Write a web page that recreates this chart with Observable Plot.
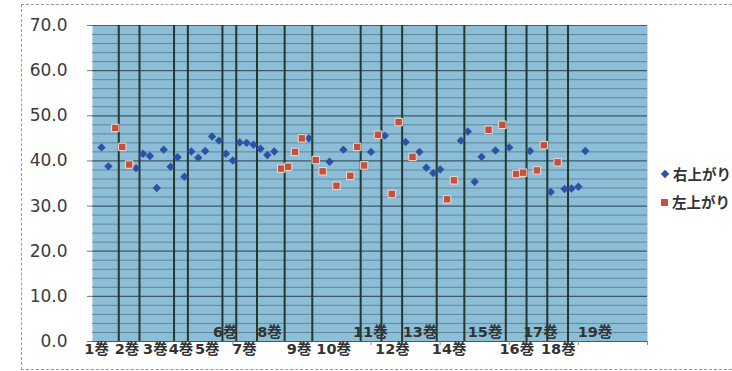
<!DOCTYPE html>
<html><head><meta charset="utf-8">
<script src="https://cdn.jsdelivr.net/npm/d3@7"></script>
<script src="https://cdn.jsdelivr.net/npm/@observablehq/plot@0.6"></script>
<style>
body{margin:0;background:#fff;}
#wrap{position:relative;width:732px;height:371px;overflow:hidden;font-family:"DejaVu Sans","Noto Sans CJK JP",sans-serif;}
#border{position:absolute;left:21px;top:4px;width:716px;height:366px;border:1.5px dashed #9a9a9a;box-sizing:border-box;}
#chart{position:absolute;left:0;top:0;}
.leg{position:absolute;left:661px;font-family:"Noto Sans CJK JP","DejaVu Sans",sans-serif;font-size:14.5px;font-weight:bold;color:#333;line-height:18px;display:flex;align-items:center;}
.leg .mk{display:inline-block;margin-right:4px;}
</style></head><body>
<div id="wrap"><div id="border"></div><div id="chart"></div>
<div class="leg" style="top:165px"><span class="mk" style="width:6px;height:6px;background:#2c52a6;transform:rotate(45deg);margin-left:1px;margin-right:5px"></span>右上がり</div>
<div class="leg" style="top:193px"><span class="mk" style="width:7px;height:7px;background:#c4503f"></span>左上がり</div>
</div>
<script>
const seriesNames = ["右上がり", "左上がり"];
// values per chapter (1..71); null where the chapter belongs to the other series
const rightUp = [43.0,38.8,null,null,null,38.4,41.6,41.1,34.0,42.5,38.7,40.8,36.5,42.1,40.7,42.2,45.4,44.5,41.6,40.1,
  44.1,44.0,43.6,42.7,41.3,42.1,null,null,null,null,45.0,null,null,39.8,null,42.5,null,null,null,42.0,
  null,45.6,null,null,44.2,null,42.0,38.5,37.3,38.1,null,null,44.5,46.5,35.4,40.9,null,42.3,null,43.0,
  null,null,42.2,null,null,33.1,null,33.8,33.9,34.3,42.2];
const leftUp = [null,null,47.3,43.1,39.2,null,null,null,null,null,null,null,null,null,null,null,null,null,null,null,
  null,null,null,null,null,null,38.3,38.7,42.0,45.0,null,40.2,37.7,null,34.5,null,36.7,43.1,39.0,null,
  45.8,null,32.7,48.6,null,40.9,null,null,null,null,31.5,35.7,null,null,null,null,46.9,null,48.0,null,
  37.1,37.4,null,37.9,43.5,null,39.7,null,null,null,null];
const volumeLabels = ["1巻","2巻","3巻","4巻","5巻","6巻","7巻","8巻","9巻","10巻","11巻","12巻","13巻","14巻","15巻","16巻","17巻","18巻","19巻"];
const chaptersPerVolume = [3,3,5,2,5,2,3,4,4,7,3,3,5,4,6,3,3,3,3];
// where each volume label sits, in chapter units
const volumeLabelAt = [0.3,4.7,8.8,12.5,16.3,18.9,21.7,25.3,29.6,34.6,39.9,43.1,47.1,51.3,56.5,61.1,64.5,67.1,72.4];
const raisedLabels = ["6巻","8巻","11巻","13巻","15巻","17巻","19巻"];
const yTicks = [0,10,20,30,40,50,60,70];

const pts = [];
rightUp.forEach((v,i)=>{ if(v!=null) pts.push({ch:i+1, v, s:seriesNames[0]}); });
leftUp.forEach((v,i)=>{ if(v!=null) pts.push({ch:i+1, v, s:seriesNames[1]}); });

let acc = 0;
const vols = chaptersPerVolume.map((n,k)=>{
  acc += n;
  return {label: volumeLabels[k], end: acc + 0.5, at: volumeLabelAt[k], raised: raisedLabels.includes(volumeLabels[k])};
});

const chart = Plot.plot({
  width: 732, height: 371,
  marginLeft: 92, marginRight: 85, marginTop: 25, marginBottom: 30,
  style: {fontFamily: '"DejaVu Sans","Noto Sans CJK JP",sans-serif', background: "transparent", overflow: "visible"},
  x: {domain: [-0.3, 80], axis: null},
  y: {domain: [0, 70], axis: null},
  marks: [
    Plot.frame({fill: "#8dbed8", stroke: null}),
    Plot.gridY(d3.range(0, 71, 2).filter(v => v % 10 !== 0), {stroke: "#3d5a66", strokeOpacity: 0.55, strokeWidth: 1}),
    Plot.gridY(yTicks, {stroke: "#2e4650", strokeOpacity: 0.85, strokeWidth: 1.2}),
    Plot.ruleX(vols.slice(0, -1), {x: "end", stroke: "#24382e", strokeWidth: 2}),
    Plot.axisY({ticks: yTicks, tickFormat: d => d.toFixed(1), tickSize: 5, tickPadding: 20, fontSize: 17, color: "#3a3a3a", stroke: "#777", label: null}),
    Plot.axisX({ticks: d3.range(10, 81, 10), tickFormat: () => "", tickSize: 4, stroke: "#888", label: null}),
    Plot.dot(pts.filter(d => d.s === seriesNames[0]), {x: "ch", y: "v", symbol: "diamond2", r: 3.8, fill: "#2c52a6", stroke: null}),
    Plot.dot(pts.filter(d => d.s === seriesNames[1]), {x: "ch", y: "v", symbol: "square", r: 4.2, fill: "#c4503f", stroke: "#f3d9cc", strokeWidth: 1}),
    Plot.text(vols.filter(d => !d.raised), {x: "at", text: "label", frameAnchor: "bottom", dy: 12, fontSize: 14.5, fontWeight: "bold", fill: "#333"}),
    Plot.text(vols.filter(d => d.raised), {x: "at", text: "label", frameAnchor: "bottom", dy: -5, fontSize: 14.5, fontWeight: "bold", fill: "#333"})
  ]
});
document.getElementById("chart").appendChild(chart);
</script>
</body></html>
